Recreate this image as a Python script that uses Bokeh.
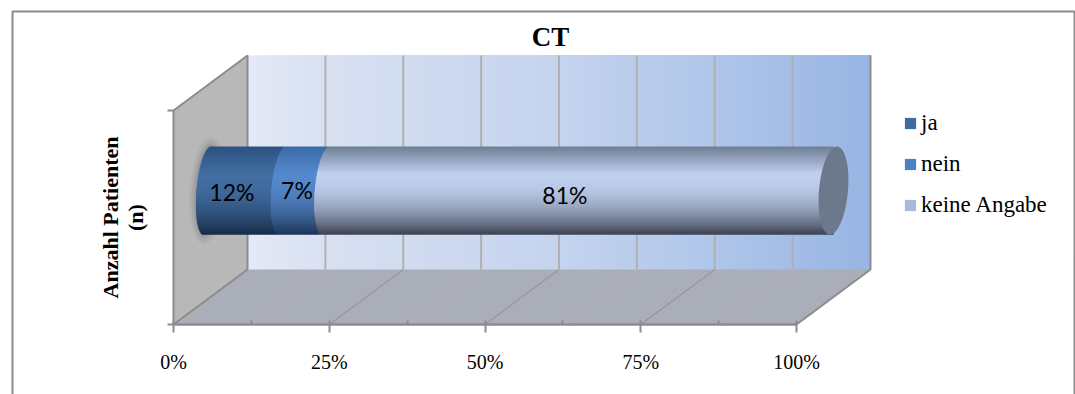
from bokeh.embed import file_html
from bokeh.resources import INLINE
from bokeh.plotting import figure
from bokeh.core.properties import value
from bokeh.models import (FixedTicker, Legend, LegendItem, LinearAxis, Range1d,
                          ColumnDataSource)
import numpy as np

# Chart content
title = "CT"
y_label = "Anzahl Patienten\n(n)"
series = ["ja", "nein", "keine Angabe"]
shares = [12, 7, 81]
share_labels = ["12%", "7%", "81%"]
tick_values = [0, 25, 50, 75, 100]
tick_labels = ["0%", "25%", "50%", "75%", "100%"]

# Colours
swatch = ["#3f6a9e", "#4f81bd", "#aab9d9"]
stops_top = ["#2c5180", "#3b6ba5", "#6f7d94"]
stops_mid = ["#436ea2", "#5589cd", "#bfd0ef"]
stops_bot = ["#162b47", "#1c3557", "#3c4150"]
GRID = "#8c8c8c"
GRID_LIGHT = "#b4b4b0"
SERIF = "Liberation Serif"

# Scene geometry, in page pixels for y and percent for x
W, H = 1075, 394
X0_PX, PX_PER_PCT = 173.0, 6.23
FRONT_TOP, FRONT_BOTTOM = 110, 324
DEPTH_PX, DEPTH_Y = 74.0, 55
BAR_TOP, BAR_BOTTOM = 146, 234
BAR_X0_PX, BAR_PX_PER_PCT = 207.0, 6.26


def pct(px):
    return (np.asarray(px, dtype=float) - X0_PX) / PX_PER_PCT


DEPTH = DEPTH_PX / PX_PER_PCT
BACK_TOP, BACK_BOTTOM = FRONT_TOP - DEPTH_Y, FRONT_BOTTOM - DEPTH_Y


def hex_rgb(c):
    return np.array([int(c[i:i + 2], 16) for i in (1, 3, 5)], dtype=float)


def rgb_hex(v):
    return "#%02x%02x%02x" % tuple(int(round(x)) for x in v)


def mix(a, b, t):
    return rgb_hex(hex_rgb(a) * (1 - t) + hex_rgb(b) * t)


p = figure(width=W, height=H, output_backend="svg", toolbar_location=None,
           x_range=Range1d(pct(0), pct(W)), y_range=Range1d(H, 0),
           x_axis_location=None, y_axis_location=None, min_border=0,
           background_fill_color="white", border_fill_color="white",
           outline_line_color=None)
p.grid.visible = False

# Outer chart border, open at the bottom of the page
p.line(pct([12, 12, 1074, 1074]), [H, 11, 11, H], line_color=GRID, line_width=2)

# Back wall with a horizontal gradient, painted left to right in overlapping bands
wall_pos = [0.0, 0.15, 0.5, 0.75, 1.0]
wall_col = ["#e3e9f6", "#d6dff1", "#c5d3ee", "#b0c6ea", "#98b5e3"]
bands = 78
left_edges = np.linspace(DEPTH, 100 + DEPTH, bands, endpoint=False)
band_cols = []
for i in range(bands):
    t = i / (bands - 1)
    j = min(int(np.searchsorted(wall_pos, t, side="right")) - 1, len(wall_pos) - 2)
    band_cols.append(mix(wall_col[j], wall_col[j + 1],
                         (t - wall_pos[j]) / (wall_pos[j + 1] - wall_pos[j])))
p.quad(left=left_edges, right=100 + DEPTH, top=BACK_TOP, bottom=BACK_BOTTOM,
       fill_color=band_cols, line_color=None)

# Side wall and floor
p.patch([0, DEPTH, DEPTH, 0], [FRONT_TOP, BACK_TOP, BACK_BOTTOM, FRONT_BOTTOM],
        fill_color="#b8b8b8", line_color=None)
p.patch([0, DEPTH, 100 + DEPTH, 100], [FRONT_BOTTOM, BACK_BOTTOM, BACK_BOTTOM, FRONT_BOTTOM],
        fill_color="#aaaeb8", line_color=None)

# Gridlines on the back wall and the floor
grid_minor = [12.5, 37.5, 62.5, 87.5]
grid_major = [25, 50, 75]
grid_all = sorted(grid_minor + grid_major)
p.segment([g + DEPTH for g in grid_all], BACK_TOP, [g + DEPTH for g in grid_all], BACK_BOTTOM,
          line_color="#b0b0b0", line_width=2)
p.segment(grid_minor, FRONT_BOTTOM, [g + DEPTH for g in grid_minor], BACK_BOTTOM,
          line_color=GRID_LIGHT, line_width=1)
p.segment(grid_major, FRONT_BOTTOM, [g + DEPTH for g in grid_major], BACK_BOTTOM,
          line_color=GRID, line_width=1)

# Wall edges
p.line([0, DEPTH, DEPTH, 0], [FRONT_TOP, BACK_TOP, BACK_BOTTOM, FRONT_BOTTOM],
       line_color=GRID, line_width=2)
p.line([100, 100 + DEPTH, 100 + DEPTH], [FRONT_BOTTOM, BACK_BOTTOM, BACK_TOP],
       line_color=GRID, line_width=2)

# Cylinder: an end is a slightly tilted ellipse
y_mid = (BAR_TOP + BAR_BOTTOM) / 2
radius_y = (BAR_BOTTOM - BAR_TOP) / 2
TILT = 3.5


def centre_px(v):
    return BAR_X0_PX + BAR_PX_PER_PCT * v


def radius_x(v):
    return 11 + 3.5 * v / 100


def ring(v, grow_x=0.0, grow_y=0.0):
    t = np.linspace(0, 2 * np.pi, 73)
    xs = centre_px(v) + (radius_x(v) + grow_x) * np.cos(t) + TILT * np.sin(t)
    ys = y_mid - (radius_y + grow_y) * np.sin(t)
    return pct(xs), ys


def left_edge(v, dy):
    return centre_px(v) + TILT * dy - radius_x(v) * np.sqrt(np.maximum(1 - dy ** 2, 0))


# Soft contact shadow where the cylinder meets the side wall
for grow_x, grow_y, alpha in [(7, 10, 0.08), (5, 7, 0.12), (3, 4, 0.16), (1.5, 2, 0.20)]:
    xs, ys = ring(0, grow_x, grow_y)
    p.patch(xs, ys, fill_color="#777777", fill_alpha=alpha, line_color=None)

rows = np.arange(BAR_TOP, BAR_BOTTOM)
row_dy = (y_mid - (rows + 0.5)) / radius_y
row_t = (rows + 0.5 - BAR_TOP) / (BAR_BOTTOM - BAR_TOP)
PEAK = 0.31
bounds = np.concatenate([[0], np.cumsum(shares)])

legend_items = []
for k, name in enumerate(series):
    start, stop = bounds[k], bounds[k + 1]
    # Flat base of the segment; the shaded rows below paint over it
    base = p.quad(left=pct(centre_px(start)), right=pct(centre_px(stop)),
                  top=y_mid - 10, bottom=y_mid + 10,
                  fill_color=swatch[k], line_color=None)
    legend_items.append(LegendItem(label=name, renderers=[base]))
    cols = [mix(stops_top[k], stops_mid[k], t / PEAK) if t < PEAK
            else mix(stops_mid[k], stops_bot[k], ((t - PEAK) / (1 - PEAK)) ** 2)
            for t in row_t]
    right_px = (centre_px(stop) if k == len(series) - 1
                else left_edge(stop, row_dy) + 0.3)
    # Each row reaches past the next one, which paints over the overlap
    row_bottom = np.minimum(rows + 2, BAR_BOTTOM)
    p.quad(left=pct(left_edge(start, row_dy)), right=pct(right_px),
           top=rows, bottom=row_bottom, fill_color=cols, line_color=None)

xs, ys = ring(100)
p.patch(xs, ys, fill_color="#6c788c", line_color=None)

# Share labels sit mid-way along each visible segment
label_x = [(left_edge(bounds[k], 0.0) + left_edge(bounds[k + 1], 0.0)) / 2 for k in range(len(series))]
label_x[0] -= 2
label_x[1] += 4
label_x[2] -= 2
labels = ColumnDataSource(dict(x=pct(label_x), y=[191, 189, 194], text=share_labels))
p.text(x="x", y="y", text="text", source=labels, text_font=value("Lato"),
       text_font_size="23px", text_color="black", text_align="center",
       text_baseline="middle")

# Chart title
p.text(x=[pct(550)], y=[36], text=[title], text_font=value(SERIF),
       text_font_size="27px", text_font_style="bold", text_color="black",
       text_align="center", text_baseline="middle")

# Percent axis along the front of the floor
xaxis = LinearAxis(fixed_location=FRONT_BOTTOM, bounds=(0, 100))
xaxis.ticker = FixedTicker(ticks=tick_values, minor_ticks=grid_minor)
xaxis.major_label_overrides = dict(zip(tick_values, tick_labels))
xaxis.major_label_text_font = SERIF
xaxis.major_label_text_font_size = "20px"
xaxis.major_label_text_color = "black"
xaxis.major_label_standoff = 18
xaxis.axis_line_color = GRID
xaxis.axis_line_width = 2.5
xaxis.major_tick_line_color = GRID
xaxis.major_tick_line_width = 2
xaxis.major_tick_in = 4
xaxis.major_tick_out = 8
xaxis.minor_tick_line_color = GRID
xaxis.minor_tick_line_width = 2
xaxis.minor_tick_in = 4
xaxis.minor_tick_out = 0
p.add_layout(xaxis, "below")

# Category axis on the front of the side wall, ticks only
yaxis = LinearAxis(fixed_location=0, bounds=(FRONT_TOP, FRONT_BOTTOM))
yaxis.ticker = FixedTicker(ticks=[FRONT_TOP, FRONT_BOTTOM])
yaxis.major_label_overrides = {FRONT_TOP: "", FRONT_BOTTOM: ""}
yaxis.major_label_standoff = 0
yaxis.axis_label = y_label
yaxis.axis_label_text_font = SERIF
yaxis.axis_label_text_font_style = "bold"
yaxis.axis_label_text_font_size = "22px"
yaxis.axis_label_text_color = "black"
yaxis.axis_label_text_line_height = 1.0
yaxis.axis_label_standoff = 20
yaxis.axis_line_color = GRID
yaxis.axis_line_width = 2
yaxis.major_tick_line_color = GRID
yaxis.major_tick_line_width = 2
yaxis.major_tick_in = 0
yaxis.major_tick_out = 6
yaxis.minor_tick_line_color = None
p.add_layout(yaxis, "left")

# Legend
legend = Legend(items=legend_items, location=(903, H - 218), orientation="vertical",
                glyph_width=14, glyph_height=14, label_standoff=4, spacing=15,
                padding=5, margin=0, border_line_color=None,
                background_fill_alpha=0, label_text_font=SERIF,
                label_text_font_size="23px", label_text_color="black")
p.add_layout(legend, "center")

open("out.html", "w").write(file_html(p, INLINE))
